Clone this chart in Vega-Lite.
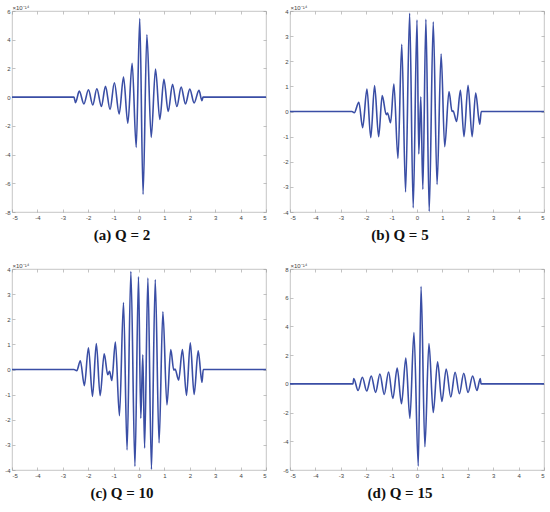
{
  "$schema": "https://vega.github.io/schema/vega-lite/v6.json",
  "padding": {"top": 3, "left": 4, "right": 2, "bottom": 2},
  "background": "white",
  "datasets": {
    "a": [
      {"x": -5, "y": 0}, {"x": -2.56, "y": 0}, {"x": -2.5, "y": -0.38}, {"x": -2.35, "y": 0.42},
      {"x": -2.17, "y": -0.47}, {"x": -1.99, "y": 0.51}, {"x": -1.82, "y": -0.54}, {"x": -1.66, "y": 0.58},
      {"x": -1.48, "y": -0.65}, {"x": -1.32, "y": 0.75}, {"x": -1.14, "y": -0.86}, {"x": -0.97, "y": 1.0},
      {"x": -0.78, "y": -1.17}, {"x": -0.61, "y": 1.4}, {"x": -0.44, "y": -1.82}, {"x": -0.27, "y": 2.36},
      {"x": -0.11, "y": -3.5}, {"x": 0.03, "y": 5.47}, {"x": 0.16, "y": -6.77}, {"x": 0.31, "y": 4.35},
      {"x": 0.48, "y": -2.8}, {"x": 0.65, "y": 1.96}, {"x": 0.82, "y": -1.56}, {"x": 0.98, "y": 1.24},
      {"x": 1.15, "y": -1.0}, {"x": 1.32, "y": 0.89}, {"x": 1.49, "y": -0.65}, {"x": 1.66, "y": 0.7},
      {"x": 1.83, "y": -0.47}, {"x": 2.0, "y": 0.56}, {"x": 2.17, "y": -0.4}, {"x": 2.36, "y": 0.47},
      {"x": 2.48, "y": -0.25}, {"x": 2.52, "y": 0}, {"x": 5, "y": 0}
    ],
    "b": [
      {"x": -5, "y": 0}, {"x": -2.56, "y": 0}, {"x": -2.47, "y": -0.05}, {"x": -2.29, "y": 0.37},
      {"x": -2.14, "y": -0.64}, {"x": -1.97, "y": 0.89}, {"x": -1.82, "y": -1.04}, {"x": -1.67, "y": 1.03},
      {"x": -1.51, "y": -1.0}, {"x": -1.37, "y": 0.63}, {"x": -1.21, "y": -0.13}, {"x": -1.16, "y": -0.06},
      {"x": -1.04, "y": -0.45}, {"x": -0.91, "y": 1.09}, {"x": -0.75, "y": -1.87}, {"x": -0.6, "y": 2.67},
      {"x": -0.45, "y": -3.2}, {"x": -0.29, "y": 3.91}, {"x": -0.15, "y": -3.83}, {"x": 0.0, "y": 3.64},
      {"x": 0.07, "y": -1.69}, {"x": 0.15, "y": 0.59}, {"x": 0.23, "y": -3.1}, {"x": 0.35, "y": 3.67},
      {"x": 0.48, "y": -3.97}, {"x": 0.64, "y": 3.56}, {"x": 0.79, "y": -2.9}, {"x": 0.95, "y": 2.29},
      {"x": 1.09, "y": -1.4}, {"x": 1.26, "y": 0.79}, {"x": 1.38, "y": 0.0}, {"x": 1.42, "y": 0.03},
      {"x": 1.56, "y": -0.4}, {"x": 1.71, "y": 0.84}, {"x": 1.85, "y": -1.0}, {"x": 2.01, "y": 1.04},
      {"x": 2.17, "y": -1.0}, {"x": 2.31, "y": 0.73}, {"x": 2.47, "y": -0.51}, {"x": 2.53, "y": 0},
      {"x": 5, "y": 0}
    ],
    "c": [
      {"x": -5, "y": 0}, {"x": -2.56, "y": 0}, {"x": -2.45, "y": -0.05}, {"x": -2.31, "y": 0.35},
      {"x": -2.15, "y": -0.64}, {"x": -1.99, "y": 0.86}, {"x": -1.83, "y": -1.07}, {"x": -1.68, "y": 1.03},
      {"x": -1.53, "y": -1.04}, {"x": -1.37, "y": 0.62}, {"x": -1.23, "y": -0.21}, {"x": -1.16, "y": -0.07},
      {"x": -1.07, "y": -0.44}, {"x": -0.93, "y": 1.09}, {"x": -0.77, "y": -1.84}, {"x": -0.61, "y": 2.66},
      {"x": -0.47, "y": -3.2}, {"x": -0.32, "y": 3.9}, {"x": -0.16, "y": -3.85}, {"x": -0.02, "y": 3.69},
      {"x": 0.07, "y": -1.94}, {"x": 0.15, "y": 0.59}, {"x": 0.22, "y": -3.13}, {"x": 0.35, "y": 3.64},
      {"x": 0.49, "y": -3.97}, {"x": 0.64, "y": 3.57}, {"x": 0.79, "y": -2.92}, {"x": 0.94, "y": 2.3},
      {"x": 1.1, "y": -1.41}, {"x": 1.25, "y": 0.79}, {"x": 1.37, "y": -0.03}, {"x": 1.42, "y": 0.02},
      {"x": 1.56, "y": -0.42}, {"x": 1.71, "y": 0.79}, {"x": 1.87, "y": -1.03}, {"x": 2.02, "y": 1.06},
      {"x": 2.17, "y": -0.99}, {"x": 2.33, "y": 0.74}, {"x": 2.48, "y": -0.51}, {"x": 2.53, "y": 0},
      {"x": 5, "y": 0}
    ],
    "d": [
      {"x": -5, "y": 0}, {"x": -2.52, "y": 0}, {"x": -2.49, "y": 0.37}, {"x": -2.32, "y": -0.46},
      {"x": -2.15, "y": 0.46}, {"x": -1.98, "y": -0.5}, {"x": -1.8, "y": 0.55}, {"x": -1.63, "y": -0.6},
      {"x": -1.46, "y": 0.69}, {"x": -1.29, "y": -0.74}, {"x": -1.12, "y": 0.83}, {"x": -0.95, "y": -1.02},
      {"x": -0.78, "y": 1.1}, {"x": -0.61, "y": -1.39}, {"x": -0.44, "y": 1.8}, {"x": -0.28, "y": -2.4},
      {"x": -0.12, "y": 3.58}, {"x": 0.05, "y": -5.72}, {"x": 0.16, "y": 6.78}, {"x": 0.31, "y": -4.38},
      {"x": 0.47, "y": 2.8}, {"x": 0.64, "y": -2.0}, {"x": 0.81, "y": 1.53}, {"x": 0.98, "y": -1.23},
      {"x": 1.15, "y": 1.04}, {"x": 1.33, "y": -0.92}, {"x": 1.5, "y": 0.81}, {"x": 1.67, "y": -0.69},
      {"x": 1.84, "y": 0.74}, {"x": 2.01, "y": -0.6}, {"x": 2.19, "y": 0.55}, {"x": 2.36, "y": -0.46},
      {"x": 2.49, "y": 0.37}, {"x": 2.52, "y": 0}, {"x": 5, "y": 0}
    ]
  },
  "config": {
    "view": {"stroke": "#b8b8b8", "strokeWidth": 0.8},
    "axis": {
      "grid": false, "domain": false, "tickColor": "#9a9a9a", "tickSize": -3, "tickWidth": 0.6,
      "labelFont": "Liberation Sans", "labelFontSize": 6, "labelColor": "#444444", "labelPadding": 5,
      "labelExpr": "'' + datum.value"
    },
    "title": {"font": "Liberation Serif", "fontSize": 15, "fontWeight": "bold", "color": "#111111"}
  },
  "spacing": 17,
  "vconcat": [
    {
      "spacing": 12,
      "hconcat": [
        {
          "width": 254, "height": 201,
          "title": {"text": "(a) Q = 2", "orient": "bottom", "anchor": "middle", "dx": -17, "offset": 8},
          "data": {"name": "a"},
          "layer": [
            {
              "mark": {"type": "line", "interpolate": "monotone", "color": "#3a4ea5", "strokeWidth": 1.6},
              "encoding": {
                "x": {"field": "x", "type": "quantitative", "scale": {"domain": [-5, 5], "nice": false},
                      "axis": {"orient": "bottom", "values": [-5, -4, -3, -2, -1, 0, 1, 2, 3, 4, 5], "title": null}},
                "y": {"field": "y", "type": "quantitative", "scale": {"domain": [-8, 6], "nice": false},
                      "axis": {"orient": "left", "values": [-8, -6, -4, -2, 0, 2, 4, 6], "title": "×10⁻¹⁴",
                               "titleAngle": 0, "titleAlign": "left", "titleBaseline": "bottom", "titleX": 0, "titleY": -1,
                               "titleFont": "Liberation Sans", "titleFontSize": 6, "titleFontWeight": "normal", "titleColor": "#444444"}}
              }
            },
            {
              "mark": {"type": "line", "opacity": 0},
              "encoding": {
                "x": {"field": "x", "type": "quantitative", "axis": {"orient": "top", "values": [-5, -4, -3, -2, -1, 0, 1, 2, 3, 4, 5], "labels": false, "title": null}},
                "y": {"field": "y", "type": "quantitative", "axis": {"orient": "right", "values": [-8, -6, -4, -2, 0, 2, 4, 6], "labels": false, "title": null}}
              }
            }
          ],
          "resolve": {"axis": {"x": "independent", "y": "independent"}}
        },
        {
          "width": 254, "height": 201,
          "title": {"text": "(b) Q = 5", "orient": "bottom", "anchor": "middle", "dx": -17, "offset": 8},
          "data": {"name": "b"},
          "layer": [
            {
              "mark": {"type": "line", "interpolate": "monotone", "color": "#3a4ea5", "strokeWidth": 1.6},
              "encoding": {
                "x": {"field": "x", "type": "quantitative", "scale": {"domain": [-5, 5], "nice": false},
                      "axis": {"orient": "bottom", "values": [-5, -4, -3, -2, -1, 0, 1, 2, 3, 4, 5], "title": null}},
                "y": {"field": "y", "type": "quantitative", "scale": {"domain": [-4, 4], "nice": false},
                      "axis": {"orient": "left", "values": [-4, -3, -2, -1, 0, 1, 2, 3, 4], "title": "×10⁻¹⁴",
                               "titleAngle": 0, "titleAlign": "left", "titleBaseline": "bottom", "titleX": 0, "titleY": -1,
                               "titleFont": "Liberation Sans", "titleFontSize": 6, "titleFontWeight": "normal", "titleColor": "#444444"}}
              }
            },
            {
              "mark": {"type": "line", "opacity": 0},
              "encoding": {
                "x": {"field": "x", "type": "quantitative", "axis": {"orient": "top", "values": [-5, -4, -3, -2, -1, 0, 1, 2, 3, 4, 5], "labels": false, "title": null}},
                "y": {"field": "y", "type": "quantitative", "axis": {"orient": "right", "values": [-4, -3, -2, -1, 0, 1, 2, 3, 4], "labels": false, "title": null}}
              }
            }
          ],
          "resolve": {"axis": {"x": "independent", "y": "independent"}}
        }
      ]
    },
    {
      "spacing": 12,
      "hconcat": [
        {
          "width": 254, "height": 201,
          "title": {"text": "(c) Q = 10", "orient": "bottom", "anchor": "middle", "dx": -17, "offset": 8},
          "data": {"name": "c"},
          "layer": [
            {
              "mark": {"type": "line", "interpolate": "monotone", "color": "#3a4ea5", "strokeWidth": 1.6},
              "encoding": {
                "x": {"field": "x", "type": "quantitative", "scale": {"domain": [-5, 5], "nice": false},
                      "axis": {"orient": "bottom", "values": [-5, -4, -3, -2, -1, 0, 1, 2, 3, 4, 5], "title": null}},
                "y": {"field": "y", "type": "quantitative", "scale": {"domain": [-4, 4], "nice": false},
                      "axis": {"orient": "left", "values": [-4, -3, -2, -1, 0, 1, 2, 3, 4], "title": "×10⁻¹⁴",
                               "titleAngle": 0, "titleAlign": "left", "titleBaseline": "bottom", "titleX": 0, "titleY": -1,
                               "titleFont": "Liberation Sans", "titleFontSize": 6, "titleFontWeight": "normal", "titleColor": "#444444"}}
              }
            },
            {
              "mark": {"type": "line", "opacity": 0},
              "encoding": {
                "x": {"field": "x", "type": "quantitative", "axis": {"orient": "top", "values": [-5, -4, -3, -2, -1, 0, 1, 2, 3, 4, 5], "labels": false, "title": null}},
                "y": {"field": "y", "type": "quantitative", "axis": {"orient": "right", "values": [-4, -3, -2, -1, 0, 1, 2, 3, 4], "labels": false, "title": null}}
              }
            }
          ],
          "resolve": {"axis": {"x": "independent", "y": "independent"}}
        },
        {
          "width": 254, "height": 201,
          "title": {"text": "(d) Q = 15", "orient": "bottom", "anchor": "middle", "dx": -17, "offset": 8},
          "data": {"name": "d"},
          "layer": [
            {
              "mark": {"type": "line", "interpolate": "monotone", "color": "#3a4ea5", "strokeWidth": 1.6},
              "encoding": {
                "x": {"field": "x", "type": "quantitative", "scale": {"domain": [-5, 5], "nice": false},
                      "axis": {"orient": "bottom", "values": [-5, -4, -3, -2, -1, 0, 1, 2, 3, 4, 5], "title": null}},
                "y": {"field": "y", "type": "quantitative", "scale": {"domain": [-6, 8], "nice": false},
                      "axis": {"orient": "left", "values": [-6, -4, -2, 0, 2, 4, 6, 8], "title": "×10⁻¹⁴",
                               "titleAngle": 0, "titleAlign": "left", "titleBaseline": "bottom", "titleX": 0, "titleY": -1,
                               "titleFont": "Liberation Sans", "titleFontSize": 6, "titleFontWeight": "normal", "titleColor": "#444444"}}
              }
            },
            {
              "mark": {"type": "line", "opacity": 0},
              "encoding": {
                "x": {"field": "x", "type": "quantitative", "axis": {"orient": "top", "values": [-5, -4, -3, -2, -1, 0, 1, 2, 3, 4, 5], "labels": false, "title": null}},
                "y": {"field": "y", "type": "quantitative", "axis": {"orient": "right", "values": [-6, -4, -2, 0, 2, 4, 6, 8], "labels": false, "title": null}}
              }
            }
          ],
          "resolve": {"axis": {"x": "independent", "y": "independent"}}
        }
      ]
    }
  ]
}
